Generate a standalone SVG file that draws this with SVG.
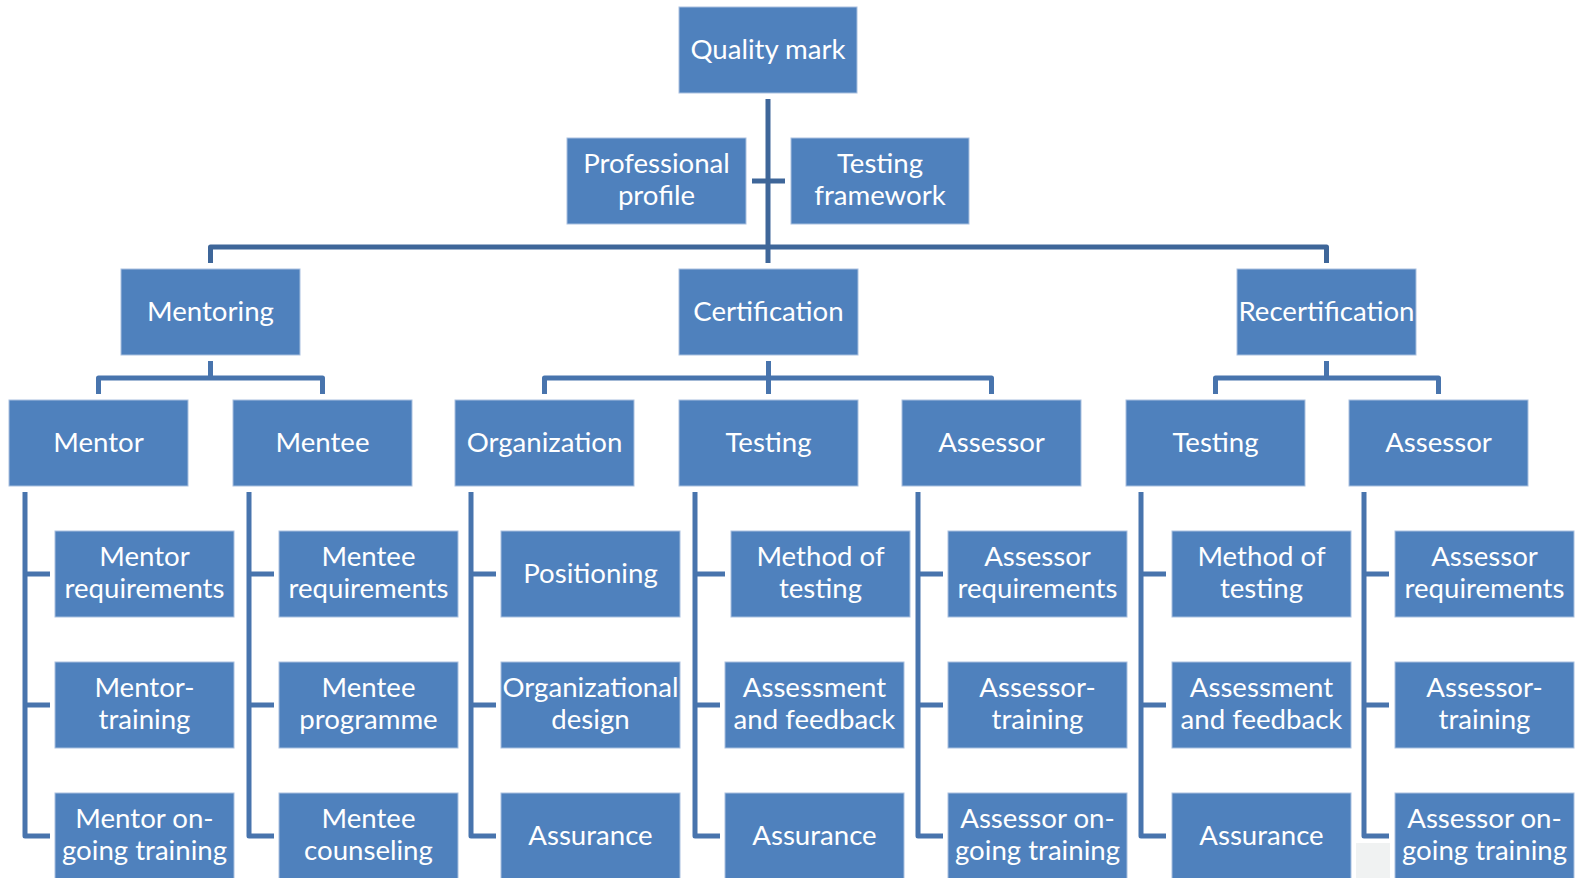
<svg xmlns="http://www.w3.org/2000/svg" width="1575" height="878" viewBox="0 0 1575 878">
<style>
.box rect{fill:#4F81BD;stroke:#A9C0DF;stroke-width:1}
.box text{fill:#FFFFFF;font-family:Lato,"Liberation Sans",sans-serif;font-size:27.6px;text-anchor:middle}
.c{fill:none;stroke:#4874AD;stroke-width:5;stroke-linejoin:round}
.ct{fill:none;stroke:#3E6699;stroke-width:5;stroke-linejoin:round}
</style>
<rect width="1575" height="878" fill="#FFFFFF"/>
<rect x="1356" y="843" width="34" height="35" fill="#F0F2F2"/>
<g id="connectors">
<path class="ct" d="M768,99 V263"/>
<path class="ct" d="M752,181 H785"/>
<path class="ct" d="M210.5,263 V247 H1326.5 V263"/>
<path class="c" d="M210.5,361 V378"/>
<path class="c" d="M98.5,394 V378 H322.5 V394"/>
<path class="c" d="M768.5,361 V394"/>
<path class="c" d="M544.5,394 V378 H991.5 V394"/>
<path class="c" d="M1326.5,361 V378"/>
<path class="c" d="M1215.5,394 V378 H1438.5 V394"/>
<path class="c" d="M25,492 V836 H50 M25,574 H50 M25,705 H50"/>
<path class="c" d="M249,492 V836 H274 M249,574 H274 M249,705 H274"/>
<path class="c" d="M471,492 V836 H496 M471,574 H496 M471,705 H496"/>
<path class="c" d="M695,492 V836 H720 M695,574 H725 M695,705 H720"/>
<path class="c" d="M918,492 V836 H943 M918,574 H943 M918,705 H943"/>
<path class="c" d="M1141,492 V836 H1166 M1141,574 H1166 M1141,705 H1166"/>
<path class="c" d="M1364,492 V836 H1389 M1364,574 H1389 M1364,705 H1389"/>
</g>
<g id="quality-mark" class="box"><rect x="679" y="7" width="178" height="86"/><text x="768" y="58.5">Quality mark</text></g>
<g id="professional-profile" class="box"><rect x="567" y="138" width="179" height="86"/><text x="656.5" y="173">Professional</text><text x="656.5" y="205">profile</text></g>
<g id="testing-framework" class="box"><rect x="791" y="138" width="178" height="86"/><text x="880" y="173">Testing</text><text x="880" y="205">framework</text></g>
<g id="mentoring" class="box"><rect x="121" y="269" width="179" height="86"/><text x="210.5" y="320.5">Mentoring</text></g>
<g id="certification" class="box"><rect x="679" y="269" width="179" height="86"/><text x="768.5" y="320.5">Certification</text></g>
<g id="recertification" class="box"><rect x="1237" y="269" width="179" height="86"/><text x="1326.5" y="320.5">Recertification</text></g>
<g id="mentor" class="box"><rect x="9" y="400" width="179" height="86"/><text x="98.5" y="451.5">Mentor</text></g>
<g id="mentee" class="box"><rect x="233" y="400" width="179" height="86"/><text x="322.5" y="451.5">Mentee</text></g>
<g id="organization" class="box"><rect x="455" y="400" width="179" height="86"/><text x="544.5" y="451.5">Organization</text></g>
<g id="testing-cert" class="box"><rect x="679" y="400" width="179" height="86"/><text x="768.5" y="451.5">Testing</text></g>
<g id="assessor-cert" class="box"><rect x="902" y="400" width="179" height="86"/><text x="991.5" y="451.5">Assessor</text></g>
<g id="testing-recert" class="box"><rect x="1126" y="400" width="179" height="86"/><text x="1215.5" y="451.5">Testing</text></g>
<g id="assessor-recert" class="box"><rect x="1349" y="400" width="179" height="86"/><text x="1438.5" y="451.5">Assessor</text></g>
<g id="mentor-requirements" class="box"><rect x="55" y="531" width="179" height="86"/><text x="144.5" y="566">Mentor</text><text x="144.5" y="598">requirements</text></g>
<g id="mentor-training" class="box"><rect x="55" y="662" width="179" height="86"/><text x="144.5" y="697">Mentor-</text><text x="144.5" y="729">training</text></g>
<g id="mentor-ongoing" class="box"><rect x="55" y="793" width="179" height="86"/><text x="144.5" y="828">Mentor on-</text><text x="144.5" y="860">going training</text></g>
<g id="mentee-requirements" class="box"><rect x="279" y="531" width="179" height="86"/><text x="368.5" y="566">Mentee</text><text x="368.5" y="598">requirements</text></g>
<g id="mentee-programme" class="box"><rect x="279" y="662" width="179" height="86"/><text x="368.5" y="697">Mentee</text><text x="368.5" y="729">programme</text></g>
<g id="mentee-counseling" class="box"><rect x="279" y="793" width="179" height="86"/><text x="368.5" y="828">Mentee</text><text x="368.5" y="860">counseling</text></g>
<g id="positioning" class="box"><rect x="501" y="531" width="179" height="86"/><text x="590.5" y="582.5">Positioning</text></g>
<g id="organizational-design" class="box"><rect x="501" y="662" width="179" height="86"/><text x="590.5" y="697">Organizational</text><text x="590.5" y="729">design</text></g>
<g id="assurance-org" class="box"><rect x="501" y="793" width="179" height="86"/><text x="590.5" y="844.5">Assurance</text></g>
<g id="method-cert" class="box"><rect x="731" y="531" width="179" height="86"/><text x="820.5" y="566">Method of</text><text x="820.5" y="598">testing</text></g>
<g id="assessment-cert" class="box"><rect x="725" y="662" width="179" height="86"/><text x="814.5" y="697">Assessment</text><text x="814.5" y="729">and feedback</text></g>
<g id="assurance-cert" class="box"><rect x="725" y="793" width="179" height="86"/><text x="814.5" y="844.5">Assurance</text></g>
<g id="assessor-req-cert" class="box"><rect x="948" y="531" width="179" height="86"/><text x="1037.5" y="566">Assessor</text><text x="1037.5" y="598">requirements</text></g>
<g id="assessor-training-cert" class="box"><rect x="948" y="662" width="179" height="86"/><text x="1037.5" y="697">Assessor-</text><text x="1037.5" y="729">training</text></g>
<g id="assessor-ongoing-cert" class="box"><rect x="948" y="793" width="179" height="86"/><text x="1037.5" y="828">Assessor on-</text><text x="1037.5" y="860">going training</text></g>
<g id="method-recert" class="box"><rect x="1172" y="531" width="179" height="86"/><text x="1261.5" y="566">Method of</text><text x="1261.5" y="598">testing</text></g>
<g id="assessment-recert" class="box"><rect x="1172" y="662" width="179" height="86"/><text x="1261.5" y="697">Assessment</text><text x="1261.5" y="729">and feedback</text></g>
<g id="assurance-recert" class="box"><rect x="1172" y="793" width="179" height="86"/><text x="1261.5" y="844.5">Assurance</text></g>
<g id="assessor-req-recert" class="box"><rect x="1395" y="531" width="179" height="86"/><text x="1484.5" y="566">Assessor</text><text x="1484.5" y="598">requirements</text></g>
<g id="assessor-training-recert" class="box"><rect x="1395" y="662" width="179" height="86"/><text x="1484.5" y="697">Assessor-</text><text x="1484.5" y="729">training</text></g>
<g id="assessor-ongoing-recert" class="box"><rect x="1395" y="793" width="179" height="86"/><text x="1484.5" y="828">Assessor on-</text><text x="1484.5" y="860">going training</text></g>
</svg>
